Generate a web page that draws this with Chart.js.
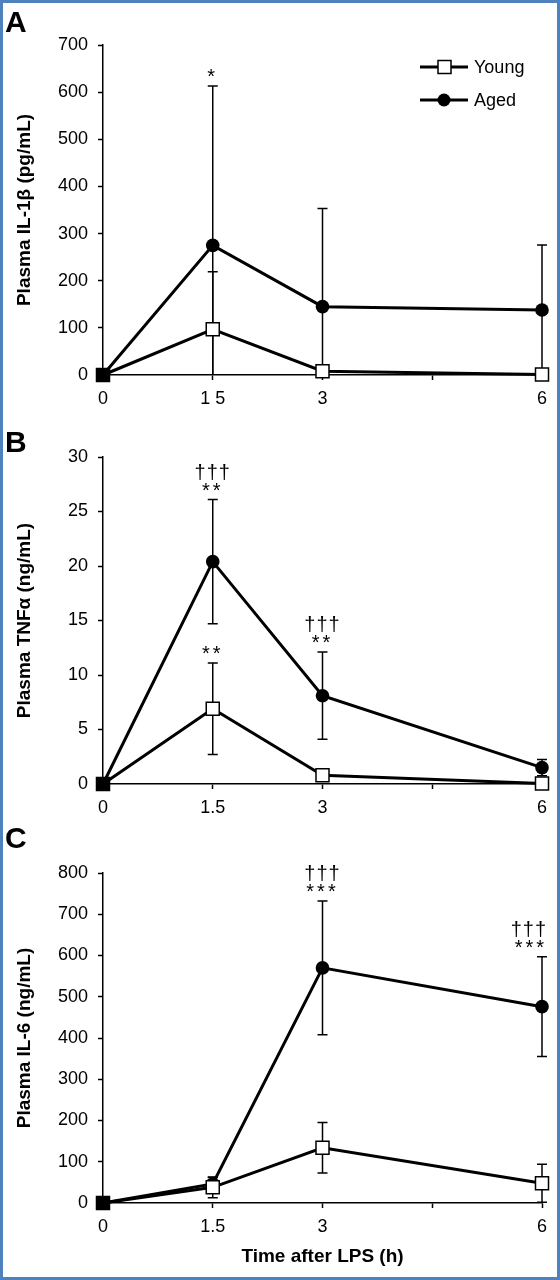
<!DOCTYPE html>
<html>
<head>
<meta charset="utf-8">
<script src="https://cdn.jsdelivr.net/npm/chart.js@4.4.1/dist/chart.umd.min.js"></script>
<style>
  body { margin: 0; background: #fff; }
  #page { position: relative; width: 560px; height: 1280px; overflow: hidden; }
  canvas { position: absolute; left: 0; }
  #frame { position: absolute; left: 0; top: 0; width: 560px; height: 1280px;
           box-sizing: border-box; border: 3px solid #4f81bd; pointer-events: none; }
</style>
</head>
<body>
<div id="page">
  <canvas id="panelA" width="560" height="420" style="top:0px"></canvas>
  <canvas id="panelB" width="560" height="420" style="top:410px"></canvas>
  <canvas id="panelC" width="560" height="480" style="top:800px"></canvas>
  <div id="frame"></div>
</div>
<script>
// Catégories (temps après LPS)
const labelsA = ['0', '1 5', '3', '', '6'];
const labelsBC = ['0', '1.5', '3', '', '6'];

// A : IL-1β (pg/mL)
const il1bYoung = [0, 97, 8, null, 1];
const il1bYoungSd = [0, 122, 3, null, 0];
const il1bAged = [0, 275, 145, null, 138];
const il1bAgedSd = [0, 338, 208, null, 138];

// B : TNFα (ng/mL)
const tnfYoung = [0, 6.9, 0.8, null, 0.05];
const tnfYoungSd = [0, 4.2, 0.2, null, 0.05];
const tnfAged = [0, 20.4, 8.1, null, 1.5];
const tnfAgedSd = [0, 5.7, 4.0, null, 0.75];

// C : IL-6 (ng/mL)
const il6Young = [0, 38, 134, null, 48];
const il6YoungSd = [0, 25, 61, null, 46];
const il6Aged = [0, 46, 570, null, 476];
const il6AgedSd = [0, 16, 162, null, 121];

// Significativité (index, série 0=Young 1=Aged, lignes)
const marksA = [{ i: 1, ds: 1, lines: ['*'] }];
const marksB = [
  { i: 1, ds: 1, lines: ['†††', '**'] },
  { i: 1, ds: 0, lines: ['**'] },
  { i: 2, ds: 1, lines: ['†††', '**'] }
];
const marksC = [
  { i: 2, ds: 1, lines: ['†††', '***'] },
  { i: 4, ds: 1, lines: ['†††', '***'] }
];

const FONT = '"Liberation Sans", Arial, sans-serif';

// Barres d'erreur sous les courbes
const errorBars = {
  id: 'errorBars',
  beforeDatasetsDraw(chart) {
    const { ctx, chartArea, scales: { x, y } } = chart;
    ctx.save();
    ctx.strokeStyle = '#000';
    ctx.lineWidth = 1.5;
    chart.data.datasets.forEach(ds => {
      ds.data.forEach((v, i) => {
        const sd = ds.err[i];
        if (v == null || !sd) return;
        const px = x.getPixelForValue(i);
        const top = y.getPixelForValue(v + sd);
        const low = v - sd;
        const bottom = low < y.min ? chartArea.bottom : y.getPixelForValue(low);
        ctx.beginPath();
        ctx.moveTo(px, top); ctx.lineTo(px, bottom);
        ctx.moveTo(px - 5, top); ctx.lineTo(px + 5, top);
        if (low >= y.min) { ctx.moveTo(px - 5, bottom); ctx.lineTo(px + 5, bottom); }
        ctx.stroke();
      });
    });
    ctx.restore();
  }
};

// Lettre du panneau, astérisques, légende
const notes = {
  id: 'notes',
  afterDraw(chart, args, opts) {
    const { ctx, chartArea, scales: { x, y } } = chart;
    ctx.save();
    ctx.fillStyle = '#000';
    ctx.font = 'bold 30px ' + FONT;
    ctx.textAlign = 'left';
    ctx.textBaseline = 'alphabetic';
    ctx.fillText(opts.letter, 5, opts.letterY);

    ctx.textAlign = 'center';
    ctx.font = '20px ' + FONT;
    (opts.marks || []).forEach(m => {
      const ds = chart.data.datasets[m.ds];
      const topY = y.getPixelForValue(ds.data[m.i] + ds.err[m.i]);
      const n = m.lines.length;
      m.lines.forEach((t, k) => {
        ctx.letterSpacing = t.includes('*') ? '3px' : '1px';
        let px = x.getPixelForValue(m.i);
        // garder le texte dans le cadre (comme l'original)
        const w = ctx.measureText(t).width;
        if (px + w / 2 > chartArea.right + 5) px = chartArea.right + 5 - w / 2;
        ctx.fillText(t, px, topY - 3 - (n - 1 - k) * 18);
      });
    });
    ctx.letterSpacing = '0px';

    if (opts.legend) {
      const x0 = chartArea.right - 122;
      const rows = [
        { label: 'Young', y: 67, square: true },
        { label: 'Aged', y: 100, square: false }
      ];
      rows.forEach(r => {
        ctx.strokeStyle = '#000';
        ctx.lineWidth = 3;
        ctx.beginPath();
        ctx.moveTo(x0, r.y); ctx.lineTo(x0 + 48, r.y);
        ctx.stroke();
        if (r.square) {
          ctx.fillStyle = '#fff';
          ctx.fillRect(x0 + 18, r.y - 6.5, 13, 13);
          ctx.lineWidth = 1.5;
          ctx.strokeRect(x0 + 18, r.y - 6.5, 13, 13);
        } else {
          ctx.fillStyle = '#000';
          ctx.beginPath();
          ctx.arc(x0 + 24, r.y, 6.5, 0, Math.PI * 2);
          ctx.fill();
        }
        ctx.fillStyle = '#000';
        ctx.font = '18px ' + FONT;
        ctx.textAlign = 'left';
        ctx.textBaseline = 'middle';
        ctx.fillText(r.label, x0 + 54, r.y + 1);
      });
    }
    ctx.restore();
  }
};

function makePanel(id, cfg) {
  const axisFont = { family: FONT, size: 18 };
  return new Chart(document.getElementById(id), {
    type: 'line',
    data: {
      labels: cfg.labels,
      datasets: [
        {
          label: 'Young', data: cfg.young, err: cfg.youngSd,
          borderColor: '#000', borderWidth: 3, tension: 0, spanGaps: true, clip: false,
          pointStyle: 'rect', pointRadius: 9.2, pointBorderWidth: 1.5, pointBorderColor: '#000',
          pointBackgroundColor: ['#000', '#fff', '#fff', '#fff', '#fff']
        },
        {
          label: 'Aged', data: cfg.aged, err: cfg.agedSd,
          borderColor: '#000', borderWidth: 3, tension: 0, spanGaps: true, clip: false,
          pointStyle: 'circle', pointRadius: 6.8, pointBorderWidth: 0,
          pointBackgroundColor: '#000'
        }
      ]
    },
    options: {
      responsive: false,
      animation: false,
      layout: { padding: { left: 0, right: 18, top: cfg.top, bottom: 0 } },
      plugins: {
        legend: { display: false },
        tooltip: { enabled: false },
        notes: { letter: cfg.letter, letterY: cfg.letterY, marks: cfg.marks, legend: cfg.legend }
      },
      scales: {
        x: {
          afterFit: s => { s.height = cfg.xHeight; },
          grid: { drawOnChartArea: false, drawTicks: true, tickLength: 5, tickWidth: 1.5, tickColor: '#000' },
          border: { color: '#000', width: 1.5 },
          ticks: { color: '#000', font: axisFont, padding: 8, maxRotation: 0, autoSkip: false },
          title: {
            display: !!cfg.xTitle, text: cfg.xTitle || '', color: '#000',
            font: { family: FONT, size: 19, weight: 'bold' }, padding: { top: 0, bottom: 12 }
          }
        },
        y: {
          min: cfg.yMin, max: cfg.yMax,
          afterFit: s => { s.width = 103; },
          grid: { drawOnChartArea: false, drawTicks: true, tickLength: 5, tickWidth: 1.5, tickColor: '#000' },
          border: { color: '#000', width: 1.5 },
          ticks: { color: '#000', font: axisFont, padding: 10, stepSize: cfg.yStep },
          title: {
            display: true, text: cfg.yTitle, color: '#000',
            font: { family: FONT, size: 19, weight: 'bold' }, padding: { top: 13, bottom: 0 }
          }
        }
      }
    },
    plugins: [errorBars, notes]
  });
}

makePanel('panelA', {
  labels: labelsA, young: il1bYoung, youngSd: il1bYoungSd, aged: il1bAged, agedSd: il1bAgedSd,
  yMin: 0, yMax: 700, yStep: 100, yTitle: 'Plasma IL-1β (pg/mL)',
  top: 45, xHeight: 45, letter: 'A', letterY: 32, marks: marksA, legend: true
});

makePanel('panelB', {
  labels: labelsBC, young: tnfYoung, youngSd: tnfYoungSd, aged: tnfAged, agedSd: tnfAgedSd,
  yMin: 0, yMax: 30, yStep: 5, yTitle: 'Plasma TNFα (ng/mL)',
  top: 47, xHeight: 46, letter: 'B', letterY: 42, marks: marksB, legend: false
});

makePanel('panelC', {
  labels: labelsBC, young: il6Young, youngSd: il6YoungSd, aged: il6Aged, agedSd: il6AgedSd,
  yMin: 0, yMax: 800, yStep: 100, yTitle: 'Plasma IL-6 (ng/mL)', xTitle: 'Time after LPS (h)',
  top: 73, xHeight: 77, letter: 'C', letterY: 48, marks: marksC, legend: false
});
</script>
</body>
</html>
